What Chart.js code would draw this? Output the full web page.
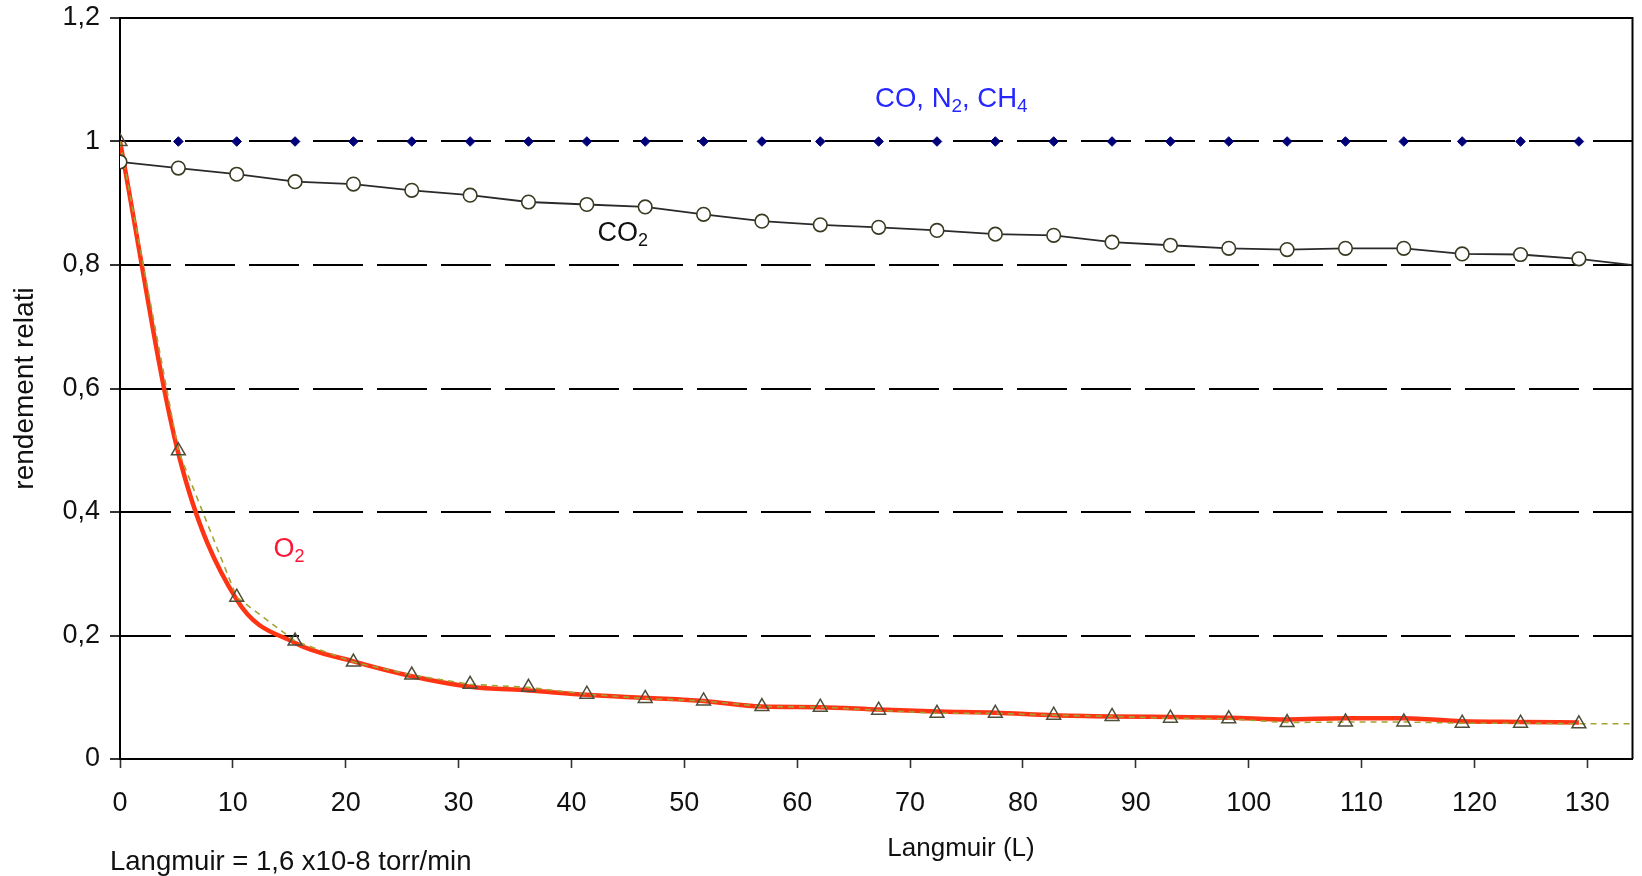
<!DOCTYPE html>
<html>
<head>
<meta charset="utf-8">
<title>rendement relatif</title>
<script src="https://cdn.jsdelivr.net/npm/chart.js@4/dist/chart.umd.min.js"></script>
<style>
  html, body { margin: 0; padding: 0; background: #ffffff; }
  #wrap { width: 1642px; height: 876px; position: relative; }
</style>
</head>
<body>
<div id="wrap"><canvas id="c" width="1642" height="876"></canvas></div>
<script>
// Exposure in Langmuir (L); the last point lies just past the axis end
const exposureL = [0, 5.17, 10.34, 15.51, 20.68, 25.85, 31.02, 36.19, 41.36, 46.53,
  51.70, 56.87, 62.04, 67.21, 72.38, 77.55, 82.72, 87.89, 93.06, 98.23,
  103.40, 108.57, 113.74, 118.91, 124.08, 129.25, 134.42];

// Relative yield of CO, N2 and CH4
const yieldCoN2Ch4 = [null, 1, 1, 1, 1, 1, 1, 1, 1, 1,
  1, 1, 1, 1, 1, 1, 1, 1, 1, 1,
  1, 1, 1, 1, 1, 1];

// Relative yield of CO2
const yieldCo2 = [0.967, 0.957, 0.947, 0.935, 0.931, 0.921, 0.913, 0.902, 0.898, 0.894,
  0.882, 0.871, 0.865, 0.861, 0.856, 0.850, 0.848, 0.837, 0.832, 0.827,
  0.825, 0.827, 0.827, 0.818, 0.817, 0.810, 0.799];

// Relative yield of O2, measured points
const yieldO2 = [1.000, 0.499, 0.262, 0.191, 0.157, 0.136, 0.121, 0.116, 0.105, 0.098,
  0.094, 0.085, 0.084, 0.079, 0.074, 0.074, 0.071, 0.069, 0.066, 0.065,
  0.059, 0.060, 0.060, 0.058, 0.058, 0.057, 0.057];

// Relative yield of O2, smoothed curve
const yieldO2Smooth = [1.000, 0.495, 0.258, 0.188, 0.158, 0.134, 0.117, 0.111, 0.104, 0.099,
  0.094, 0.085, 0.084, 0.080, 0.077, 0.075, 0.071, 0.069, 0.068, 0.067,
  0.064, 0.066, 0.066, 0.061, 0.060, 0.059];

// Axis ticks
const xTicks = [0, 10, 20, 30, 40, 50, 60, 70, 80, 90, 100, 110, 120, 130];
const yTicks = [0, 0.2, 0.4, 0.6, 0.8, 1, 1.2];

const X_MIN = 0, X_MAX = 134, Y_MIN = 0, Y_MAX = 1.2;
const FONT = '"Liberation Sans", Arial, Helvetica, sans-serif';

const toPoints = (arr) => arr.map((v, i) => ({ x: exposureL[i], y: v }));
const insideRadius = (r) => (c) => (c.raw && c.raw.x > X_MAX ? 0 : r);

// Gas labels, anchored in data units; [text, isSubscript]
const gasLabels = [
  { parts: [['CO, N', false], ['2', true], [', CH', false], ['4', true]], x: 66.9, y: 1.068, size: 27.5, color: '#2626ff' },
  { parts: [['CO', false], ['2', true]], x: 42.3, y: 0.851, size: 27, color: '#111111' },
  { parts: [['O', false], ['2', true]], x: 13.6, y: 0.339, size: 27, color: '#ff1535' }
];

const frameAndLabels = {
  id: 'frameAndLabels',
  afterDatasetsDraw(chart) {
    const { ctx, chartArea: a, scales } = chart;
    ctx.save();
    // top and right edges of the plot frame
    ctx.strokeStyle = '#000';
    ctx.lineWidth = 2;
    ctx.setLineDash([]);
    ctx.beginPath();
    ctx.moveTo(a.left, a.top);
    ctx.lineTo(a.right, a.top);
    ctx.lineTo(a.right, a.bottom);
    ctx.stroke();

    // gas labels with subscripts
    ctx.textBaseline = 'middle';
    ctx.textAlign = 'left';
    gasLabels.forEach(lbl => {
      let px = scales.x.getPixelForValue(lbl.x);
      const py = scales.y.getPixelForValue(lbl.y);
      ctx.fillStyle = lbl.color;
      lbl.parts.forEach(([txt, sub]) => {
        ctx.font = (sub ? Math.round(lbl.size * 0.68) : lbl.size) + 'px ' + FONT;
        ctx.fillText(txt, px, sub ? py + lbl.size * 0.28 : py);
        px += ctx.measureText(txt).width;
      });
    });

    // x-axis title and unit note
    ctx.fillStyle = '#111111';
    ctx.textBaseline = 'alphabetic';
    ctx.font = '26px ' + FONT;
    ctx.textAlign = 'center';
    ctx.fillText('Langmuir (L)', 961, 856);
    ctx.font = '27.5px ' + FONT;
    ctx.textAlign = 'left';
    ctx.fillText('Langmuir = 1,6 x10-8 torr/min', 110, 870);
    ctx.restore();
  }
};

new Chart(document.getElementById('c'), {
  type: 'line',
  data: {
    datasets: [
      {
        label: 'CO, N2, CH4',
        data: toPoints(yieldCoN2Ch4),
        showLine: false,
        pointStyle: 'rectRot',
        pointRadius: 4.8,
        pointBackgroundColor: '#000078',
        pointBorderColor: '#000078',
        pointBorderWidth: 1,
        order: 1
      },
      {
        label: 'CO2',
        data: toPoints(yieldCo2),
        borderColor: '#2a2a2a',
        borderWidth: 1.8,
        tension: 0,
        pointStyle: 'circle',
        pointRadius: insideRadius(6.8),
        pointBackgroundColor: '#ffffff',
        pointBorderColor: '#3a3a22',
        pointBorderWidth: 1.6,
        order: 2
      },
      {
        label: 'O2',
        data: toPoints(yieldO2),
        borderColor: '#a3a332',
        borderWidth: 1.6,
        borderDash: [6, 5],
        tension: 0,
        pointStyle: 'triangle',
        pointRadius: insideRadius(8),
        pointBackgroundColor: 'rgba(255,255,255,0)',
        pointBorderColor: '#4e4e3a',
        pointBorderWidth: 1.5,
        order: 3
      },
      {
        label: 'O2 lissé',
        data: toPoints(yieldO2Smooth),
        borderColor: '#ff3414',
        borderWidth: 4.5,
        cubicInterpolationMode: 'monotone',
        pointRadius: 0,
        order: 4
      }
    ]
  },
  options: {
    responsive: false,
    animation: false,
    devicePixelRatio: 1,
    events: [],
    layout: { padding: { left: 0, top: 18, right: 6, bottom: 0 } },
    plugins: {
      legend: { display: false },
      tooltip: { enabled: false },
      title: { display: false }
    },
    scales: {
      x: {
        type: 'linear',
        min: X_MIN,
        max: X_MAX,
        afterBuildTicks: (s) => { s.ticks = xTicks.map(v => ({ value: v })); },
        afterFit: (s) => { s.height = 117; s.paddingLeft = 0; s.paddingRight = 0; },
        ticks: {
          callback: (v) => String(v),
          font: { family: FONT, size: 27 },
          color: '#111111',
          padding: 19,
          maxRotation: 0,
          autoSkip: false
        },
        grid: {
          drawOnChartArea: false,
          drawTicks: true,
          tickLength: 9,
          tickColor: '#333333',
          tickWidth: 1.6
        },
        border: { display: true, color: '#000000', width: 2 }
      },
      y: {
        type: 'linear',
        min: Y_MIN,
        max: Y_MAX,
        afterBuildTicks: (s) => { s.ticks = yTicks.map(v => ({ value: v })); },
        afterFit: (s) => { s.width = 120; s.paddingTop = 0; s.paddingBottom = 0; },
        ticks: {
          callback: (v) => String(v).replace('.', ','),
          font: { family: FONT, size: 27 },
          color: '#111111',
          padding: 10,
          autoSkip: false
        },
        grid: {
          color: (c) => (c.tick && c.tick.value === 0 ? 'rgba(0,0,0,0)' : '#000000'),
          lineWidth: 2,
          drawTicks: true,
          tickLength: 10,
          tickColor: '#000000',
          tickWidth: 1.6
        },
        border: {
          display: true,
          color: '#000000',
          width: 2,
          dash: (c) => (c.tick && c.tick.value === 1.2 ? [] : [50, 14])
        },
        title: {
          display: true,
          text: 'rendement relati',
          font: { family: FONT, size: 28 },
          color: '#111111',
          padding: { top: 8, bottom: 0 }
        }
      }
    }
  },
  plugins: [frameAndLabels]
});
</script>
</body>
</html>
